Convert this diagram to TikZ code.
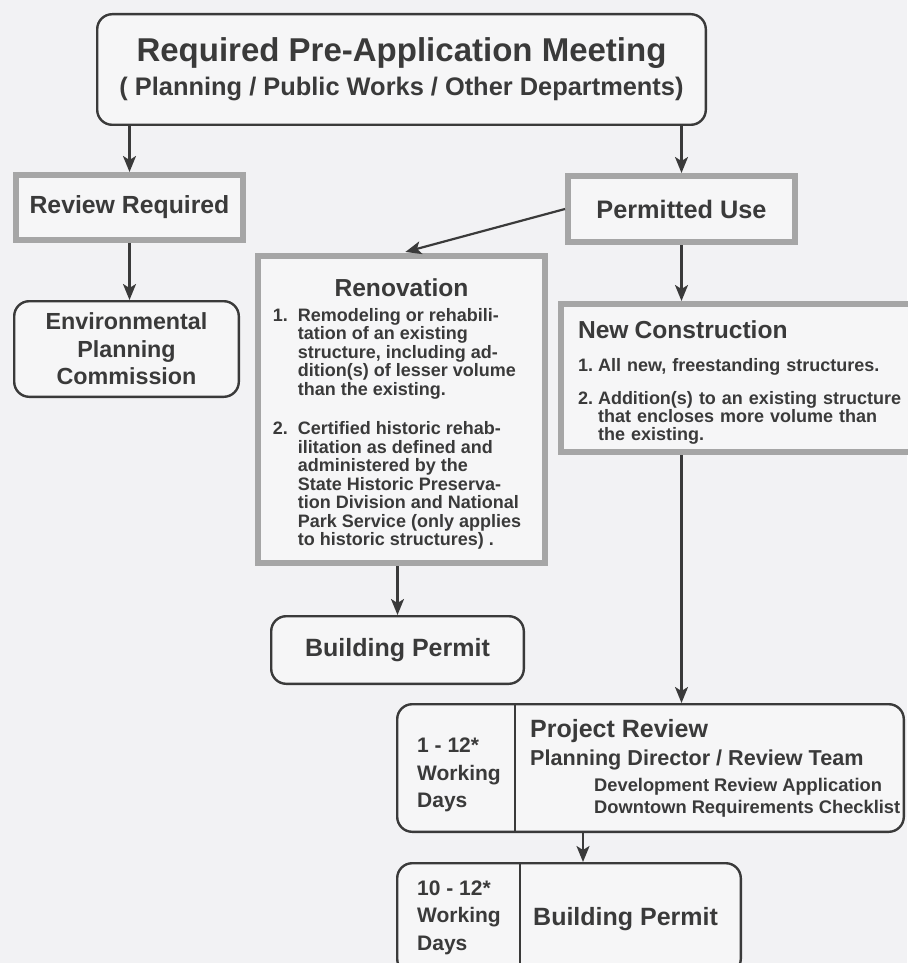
\documentclass[tikz,border=0pt]{standalone}
\usepackage{fontspec}
\setmainfont{Liberation Sans}
\usetikzlibrary{positioning, calc, arrows.meta}
\definecolor{inkgray}{HTML}{3A3A3A}
\definecolor{framegray}{HTML}{A6A6A6}
\definecolor{paper}{HTML}{F2F2F4}
\definecolor{boxfill}{HTML}{F6F6F7}
\newcommand{\fsz}[2]{\fontsize{#1pt}{#2pt}\selectfont}

\begin{document}
\begin{tikzpicture}[
    x=1pt, y=1pt,
    every node/.style={font=\bfseries, text=inkgray, inner sep=0pt},
    roundbox/.style={rectangle, rounded corners=15pt, draw=inkgray, line width=2.4pt,
                     fill=boxfill, align=center},
    graybox/.style={rectangle, draw=framegray, line width=6pt, fill=boxfill, align=center},
    daystext/.style={align=left, font=\bfseries\fsz{21}{27.5}},
    arrow/.style={line width=2.2pt, inkgray, -{Stealth[length=16pt, width=13pt, inset=4pt]}},
    cutline/.style={line width=2pt, draw=inkgray}
]
\fill[paper] (0,0) rectangle (907,-963);
\useasboundingbox (0,0) rectangle (907,-963);

\node[roundbox, minimum width=608.6pt, minimum height=110.6pt, font=\bfseries\fsz{33}{34}] (meeting) at (401.5,-69.5)
    {Required Pre-Application Meeting\\{\fsz{25.4}{30}( Planning / Public Works / Other Departments)}};
\node[graybox, minimum width=227pt, minimum height=65pt, font=\bfseries\fsz{24.8}{28}] (review) at (129.5,-207.5) {Review Required};
\node[graybox, minimum width=227pt, minimum height=66pt, font=\bfseries\fsz{25.3}{28}] (permitted) at (681.5,-209) {Permitted Use};
\node[roundbox, below=57pt of review, xshift=-3pt, minimum width=224.6pt, minimum height=95.6pt,
      font=\bfseries\fsz{23.3}{27.5}] (epc) {Environmental\\Planning\\Commission};

\node[graybox, minimum width=287pt, minimum height=307pt, font=\bfseries\fsz{18}{18.4}] (reno) at (401.5,-409.5) {%
    \begin{tabular}{@{}l@{\hspace{10pt}}l@{\hspace{9pt}}}
    \multicolumn{2}{@{}c@{}}{\rule{0pt}{29pt}\fsz{24.6}{28}Renovation}\\[6pt]
    1. & Remodeling or rehabili-\\
       & tation of an existing\\
       & structure, including ad-\\
       & dition(s) of lesser volume\\
       & than the existing.\\[20.6pt]
    2. & Certified historic rehab-\\
       & ilitation as defined and\\
       & administered by the\\
       & State Historic Preserva-\\
       & tion Division and National\\
       & Park Service (only applies\\
       & to historic structures) .
    \end{tabular}};
\node[graybox, minimum width=360pt, minimum height=148pt, text width=326pt, align=left,
      font=\bfseries\fsz{18}{16.5}] (newc) at (741,-378) {%
    \begin{tabular}{@{}l@{\hspace{5pt}}l@{}}
    \multicolumn{2}{@{}l@{}}{\rule{0pt}{28pt}\fsz{24.6}{28}New Construction}\\[15pt]
    1. & All new, freestanding structures.\\[14.5pt]
    2. & Addition(s) to an existing structure\\
       & that encloses more volume than\\
       & the existing.
    \end{tabular}};
\node[roundbox, below=49pt of reno, xshift=-4pt, minimum width=252.6pt, minimum height=67.6pt,
      font=\bfseries\fsz{25}{28}] (permit) {Building Permit};

% project review, days column on the left
\node[roundbox, minimum width=506.6pt, minimum height=127.6pt] (projreview) at (650.5,-768) {};
\draw[cutline] ([xshift=119pt]projreview.north west) -- ([xshift=119pt]projreview.south west);
\node[daystext, right=21pt of projreview.west, yshift=-7pt] (projdays) {1 - 12*\\Working\\Days};
\node[right=134pt of projreview.west, yshift=-2pt, font=\bfseries\fsz{18.3}{22}] (projinfo) {%
    \begin{tabular}{@{}l@{}}
    \fsz{25}{28}Project Review\\[5.3pt]
    \fsz{21.6}{25}Planning Director / Review Team\\[4.8pt]
    \hspace*{64pt}Development Review Application\\
    \hspace*{64pt}Downtown Requirements Checklist
    \end{tabular}};

\node[roundbox, below=29pt of projreview, xshift=-81.5pt, minimum width=343.6pt, minimum height=110.6pt] (permit2) {};
\draw[cutline] ([xshift=124pt]permit2.north west) -- ([xshift=124pt]permit2.south west);
\node[daystext, right=21pt of permit2.west, yshift=1pt] (permitdays) {10 - 12*\\Working\\Days};
\node[right=137pt of permit2.west, yshift=-1pt, font=\bfseries\fsz{25}{28}] (permitlabel) {Building Permit};
\coordinate (permitin) at ([xshift=14pt]permit2.north);

\draw[arrow] (review.north |- meeting.south) -- (review.north);
\draw[arrow] (permitted.north |- meeting.south) -- (permitted.north);
\draw[arrow] (review.south) -- (review.south |- epc.north);
\draw[arrow, shorten >=4pt] (permitted.west) -- (reno.north);
\draw[arrow] (permitted.south) -- (permitted.south |- newc.north);
\draw[arrow] (permit.north |- reno.south) -- (permit.north);
\draw[arrow] (permitted.south |- newc.south) -- (permitted.south |- projreview.north);
\draw[arrow] (permitin |- projreview.south) -- (permitin);
\end{tikzpicture}
\end{document}
